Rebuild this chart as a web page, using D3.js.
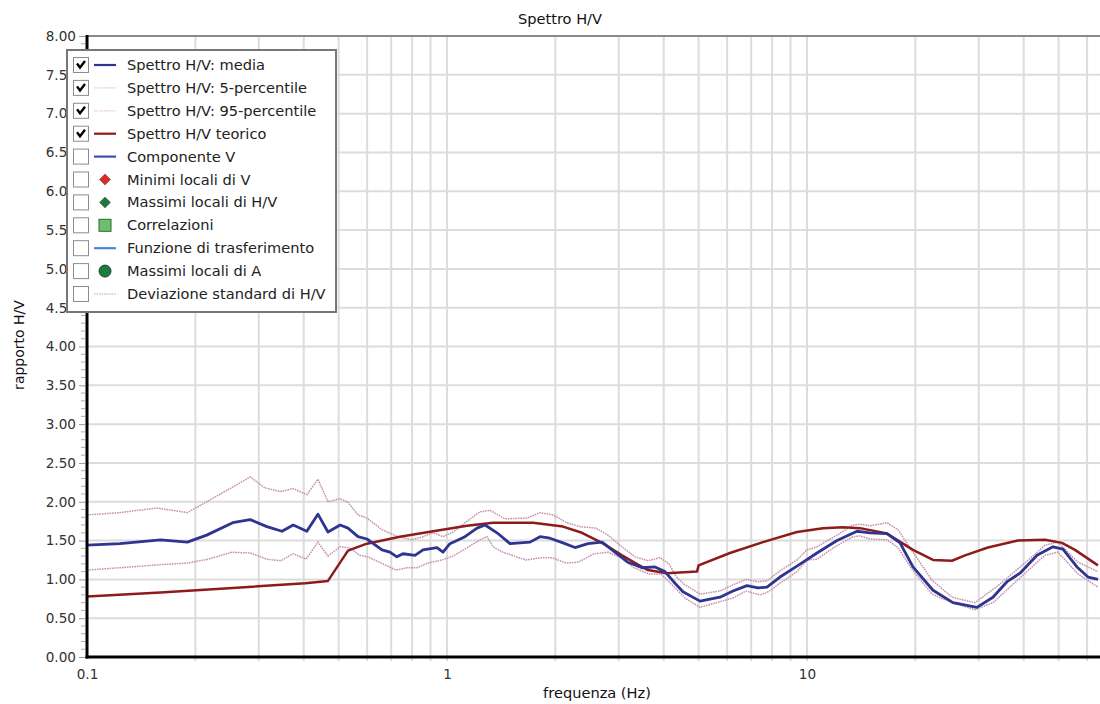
<!DOCTYPE html>
<html>
<head>
<meta charset="utf-8">
<script src="https://cdn.jsdelivr.net/npm/d3@7"></script>
<style>
  html, body { margin: 0; padding: 0; background: #fff; }
  svg { display: block; font-family: "DejaVu Sans", Verdana, sans-serif; }
</style>
</head>
<body>
<svg id="chart" width="1100" height="704"></svg>
<script>
// H/V spectral ratio: mean, 5/95 percentiles and theoretical curve
const meanFreq = [0.1, 0.1235, 0.16, 0.19, 0.215, 0.254, 0.284, 0.316, 0.348, 0.374, 0.408, 0.438, 0.467, 0.505, 0.531, 0.566, 0.599, 0.66, 0.694, 0.726, 0.755, 0.815, 0.858, 0.938, 0.975, 1.019, 1.122, 1.212, 1.276, 1.377, 1.496, 1.701, 1.813, 1.932, 2.1, 2.268, 2.465, 2.696, 2.929, 3.183, 3.481, 3.783, 4.032, 4.299, 4.524, 5.045, 5.733, 6.229, 6.813, 7.311, 7.743, 8.414, 9.38, 10.66, 12.12, 13.77, 14.96, 16.68, 18.13, 19.7, 22.39, 25.44, 29.66, 32.86, 35.94, 39.06, 43.55, 48.23, 51.41, 56.23, 60.35, 64.31];
const meanHV = [1.44, 1.46, 1.51, 1.48, 1.57, 1.73, 1.77, 1.68, 1.62, 1.70, 1.62, 1.84, 1.61, 1.70, 1.66, 1.55, 1.52, 1.38, 1.35, 1.29, 1.33, 1.31, 1.38, 1.41, 1.35, 1.46, 1.55, 1.66, 1.70, 1.60, 1.46, 1.48, 1.55, 1.53, 1.47, 1.41, 1.46, 1.48, 1.35, 1.22, 1.15, 1.16, 1.10, 0.95, 0.84, 0.72, 0.77, 0.85, 0.92, 0.89, 0.90, 1.03, 1.17, 1.34, 1.50, 1.62, 1.60, 1.59, 1.47, 1.16, 0.86, 0.70, 0.64, 0.77, 0.97, 1.08, 1.31, 1.42, 1.39, 1.16, 1.03, 1.00];

const p5Freq = [0.1, 0.1235, 0.16, 0.19, 0.217, 0.253, 0.284, 0.316, 0.346, 0.374, 0.406, 0.438, 0.467, 0.505, 0.534, 0.573, 0.603, 0.656, 0.722, 0.774, 0.825, 0.886, 0.969, 1.039, 1.122, 1.235, 1.292, 1.342, 1.43, 1.516, 1.658, 1.836, 1.958, 2.141, 2.312, 2.561, 2.8, 3.043, 3.307, 3.639, 3.93, 4.217, 4.582, 5.045, 5.807, 6.229, 6.77, 7.404, 7.743, 8.414, 9.38, 10.0, 10.66, 11.96, 13.42, 14.04, 14.96, 16.68, 17.9, 19.57, 22.25, 25.28, 29.29, 32.86, 33.94, 42.17, 45.82, 49.8, 56.6, 64.31];
const p5HV = [1.12, 1.15, 1.19, 1.21, 1.26, 1.35, 1.34, 1.26, 1.24, 1.33, 1.26, 1.48, 1.30, 1.42, 1.41, 1.31, 1.29, 1.21, 1.12, 1.15, 1.15, 1.21, 1.25, 1.30, 1.39, 1.51, 1.55, 1.42, 1.35, 1.31, 1.25, 1.28, 1.28, 1.21, 1.22, 1.33, 1.35, 1.28, 1.15, 1.07, 1.07, 0.93, 0.76, 0.64, 0.72, 0.76, 0.85, 0.80, 0.83, 0.95, 1.10, 1.25, 1.26, 1.42, 1.55, 1.56, 1.52, 1.51, 1.41, 1.13, 0.81, 0.70, 0.61, 0.70, 0.76, 1.16, 1.31, 1.35, 1.07, 0.90];

const p95Freq = [0.1, 0.1235, 0.1565, 0.19, 0.215, 0.254, 0.284, 0.312, 0.344, 0.374, 0.408, 0.438, 0.467, 0.505, 0.531, 0.566, 0.599, 0.66, 0.731, 0.799, 0.858, 0.915, 0.975, 1.039, 1.137, 1.235, 1.317, 1.449, 1.668, 1.813, 1.97, 2.154, 2.341, 2.594, 2.8, 3.024, 3.329, 3.616, 3.906, 4.137, 4.326, 4.553, 5.045, 5.733, 6.229, 6.77, 7.311, 7.743, 8.414, 9.38, 10.0, 10.66, 12.12, 13.42, 14.21, 14.96, 16.68, 17.9, 19.57, 22.25, 25.28, 29.29, 33.94, 42.17, 45.82, 49.8, 56.6, 64.31];
const p95HV = [1.83, 1.86, 1.92, 1.86, 2.00, 2.19, 2.32, 2.18, 2.13, 2.17, 2.09, 2.29, 2.00, 2.04, 1.99, 1.83, 1.79, 1.64, 1.55, 1.51, 1.55, 1.60, 1.55, 1.61, 1.75, 1.87, 1.89, 1.78, 1.79, 1.86, 1.83, 1.73, 1.68, 1.66, 1.57, 1.44, 1.29, 1.24, 1.28, 1.20, 1.04, 0.94, 0.81, 0.85, 0.93, 1.00, 0.97, 0.98, 1.11, 1.25, 1.38, 1.42, 1.57, 1.70, 1.71, 1.69, 1.73, 1.64, 1.37, 0.99, 0.77, 0.70, 0.92, 1.29, 1.44, 1.48, 1.22, 1.10];

const theoFreq = [0.1, 0.16, 0.254, 0.404, 0.467, 0.531, 0.599, 0.74, 0.915, 1.137, 1.342, 1.733, 2.1, 2.371, 2.696, 3.063, 3.393, 3.616, 4.084, 4.95, 5.0, 6.11, 7.547, 9.38, 11.08, 12.59, 14.04, 16.68, 19.7, 22.39, 25.28, 27.48, 31.83, 38.56, 45.82, 51.08, 55.52, 64.31];
const theoHV = [0.78, 0.83, 0.89, 0.95, 0.98, 1.37, 1.46, 1.55, 1.62, 1.69, 1.73, 1.73, 1.68, 1.60, 1.47, 1.31, 1.19, 1.12, 1.08, 1.10, 1.18, 1.34, 1.48, 1.61, 1.66, 1.67, 1.66, 1.59, 1.38, 1.25, 1.24, 1.31, 1.41, 1.50, 1.51, 1.47, 1.38, 1.18];

const yTickValues = [0, 0.5, 1, 1.5, 2, 2.5, 3, 3.5, 4, 4.5, 5, 5.5, 6, 6.5, 7, 7.5, 8];
const xTickLabels = ["0.1", "1", "10"];

const legendLabels = ["Spettro H/V: media", "Spettro H/V: 5-percentile", "Spettro H/V: 95-percentile", "Spettro H/V teorico", "Componente V", "Minimi locali di V", "Massimi locali di H/V", "Correlazioni", "Funzione di trasferimento", "Massimi locali di A", "Deviazione standard di H/V"];
const legendChecked = [true, true, true, true, false, false, false, false, false, false, false];
const legendSymbols = ["line", "dots", "dots", "line", "line", "diamond", "diamond", "square", "line", "circle", "dots"];
const legendColors = ["#2e3590", "#e6c3d6", "#e6c3d6", "#8e1b1b", "#3b4fae", "#e02828", "#1b7a3e", "#6cc06e", "#4a86d0", "#1b7a3e", "#c8c8c8"];

const svg = d3.select("#chart");
const pLeft = 87, pTop = 36, pRight = 1100, pBottom = 657;
const labelSize = 14.6, tickSize = 13.6;

const x = d3.scaleLog().domain([0.1, 65.16]).range([pLeft, pRight]);
const y = d3.scaleLinear().domain([0, 8]).range([pBottom, pTop]);

svg.append("defs").append("clipPath").attr("id", "plotClip")
  .append("rect").attr("x", pLeft).attr("y", pTop).attr("width", pRight - pLeft).attr("height", pBottom - pTop);

// grid
const gridFreqs = [];
[0.1, 1, 10].forEach(d => { for (let k = 1; k <= 9; k++) { const f = d * k; if (f <= 65.16) gridFreqs.push(f); } });
const grid = svg.append("g").attr("stroke", "#dcdcdc").attr("stroke-width", 2);
grid.selectAll(".vg").data(gridFreqs.slice(1)).join("line")
  .attr("x1", d => x(d)).attr("x2", d => x(d)).attr("y1", pTop).attr("y2", pBottom + 4);
grid.selectAll(".hg").data(yTickValues.slice(1)).join("line")
  .attr("x1", pLeft).attr("x2", pRight).attr("y1", d => y(d)).attr("y2", d => y(d));

// y axis with minor ticks
const yMinor = d3.range(0, 8.001, 0.1).filter(v => Math.abs(v * 2 - Math.round(v * 2)) > 1e-6);
const yAxis = svg.append("g").attr("transform", `translate(${pLeft - 2},0)`)
  .call(d3.axisLeft(y).tickValues(yTickValues).tickFormat(d3.format(".2f")).tickSize(6).tickPadding(3));
yAxis.select(".domain").remove();
yAxis.selectAll(".tick line").attr("stroke", "#999");
yAxis.selectAll(".tick text").attr("fill", "#333").attr("font-size", tickSize).attr("font-family", "DejaVu Sans, sans-serif");
svg.append("g").selectAll("line").data(yMinor).join("line")
  .attr("x1", pLeft - 6).attr("x2", pLeft - 2).attr("y1", d => y(d)).attr("y2", d => y(d))
  .attr("stroke", "#aaa").attr("stroke-width", 1);

// x axis labels
const xAxis = svg.append("g").attr("transform", `translate(0,${pBottom})`)
  .call(d3.axisBottom(x).tickValues(xTickLabels.map(Number)).tickFormat((d, i) => xTickLabels[i]).tickSize(0).tickPadding(12));
xAxis.select(".domain").remove();
xAxis.selectAll(".tick text").attr("fill", "#333").attr("font-size", tickSize).attr("font-family", "DejaVu Sans, sans-serif");

// data lines
const plot = svg.append("g").attr("clip-path", "url(#plotClip)");
const line = d3.line().x(d => x(d[0])).y(d => y(d[1]));
const zip = (a, b) => a.map((v, i) => [v, b[i]]);

plot.append("path").datum(zip(p95Freq, p95HV)).attr("d", line)
  .attr("fill", "none").attr("stroke", "#c690ad").attr("stroke-width", 1.5).attr("stroke-dasharray", "1.6,0.9");
plot.append("path").datum(zip(p5Freq, p5HV)).attr("d", line)
  .attr("fill", "none").attr("stroke", "#c690ad").attr("stroke-width", 1.5).attr("stroke-dasharray", "1.6,0.9");
plot.append("path").datum(zip(theoFreq, theoHV)).attr("d", line)
  .attr("fill", "none").attr("stroke", "#8e1b1b").attr("stroke-width", 2.5).attr("stroke-linejoin", "round");
plot.append("path").datum(zip(meanFreq, meanHV)).attr("d", line)
  .attr("fill", "none").attr("stroke", "#2e3590").attr("stroke-width", 2.8).attr("stroke-linejoin", "round");

// frame
svg.append("line").attr("x1", pLeft).attr("x2", pRight).attr("y1", pTop).attr("y2", pTop)
  .attr("stroke", "#8a8a8a").attr("stroke-width", 2);
svg.append("line").attr("x1", pLeft).attr("x2", pLeft).attr("y1", pTop - 1).attr("y2", pBottom + 1.5)
  .attr("stroke", "#000").attr("stroke-width", 3);
svg.append("line").attr("x1", pLeft - 1.5).attr("x2", pRight).attr("y1", pBottom).attr("y2", pBottom)
  .attr("stroke", "#000").attr("stroke-width", 3);

// titles
svg.append("text").attr("x", 560).attr("y", 24).attr("text-anchor", "middle")
  .attr("font-size", labelSize).attr("fill", "#111").text("Spettro H/V");
svg.append("text").attr("x", 597).attr("y", 698).attr("text-anchor", "middle")
  .attr("font-size", labelSize).attr("fill", "#111").text("frequenza (Hz)");
svg.append("text").attr("transform", "translate(24,345) rotate(-90)").attr("text-anchor", "middle")
  .attr("font-size", 14).attr("fill", "#111").text("rapporto H/V");

// legend
const legend = svg.append("g");
legend.append("rect").attr("x", 67).attr("y", 50).attr("width", 269).attr("height", 262)
  .attr("fill", "#fff").attr("stroke", "#777").attr("stroke-width", 2);
const rowY = i => 65 + i * 22.9;
const rows = legend.selectAll(".row").data(legendLabels).join("g")
  .attr("transform", (d, i) => `translate(0,${rowY(i)})`);
rows.append("rect").attr("x", 73.5).attr("y", -7.5).attr("width", 15).attr("height", 15)
  .attr("fill", "#fff").attr("stroke", "#8c8c8c").attr("stroke-width", 1);
rows.filter((d, i) => legendChecked[i]).append("path")
  .attr("d", "M77,-1.5 L80,2.5 L85,-4").attr("fill", "none").attr("stroke", "#000").attr("stroke-width", 2.4);
rows.each(function (d, i) {
  const g = d3.select(this);
  const s = legendSymbols[i], c = legendColors[i];
  if (s === "line") {
    g.append("line").attr("x1", 94).attr("x2", 116).attr("y1", 0).attr("y2", 0).attr("stroke", c).attr("stroke-width", 2.2);
  } else if (s === "dots") {
    g.append("line").attr("x1", 94).attr("x2", 116).attr("y1", 0).attr("y2", 0).attr("stroke", c)
      .attr("stroke-width", 1.3).attr("stroke-dasharray", "1.5,1");
  } else if (s === "diamond") {
    g.append("path").attr("d", "M105,-5.5 L110.5,0 L105,5.5 L99.5,0 Z").attr("fill", c).attr("stroke", "#555").attr("stroke-width", 0.6);
  } else if (s === "square") {
    g.append("rect").attr("x", 99).attr("y", -6).attr("width", 12).attr("height", 12).attr("fill", c).attr("stroke", "#2d6a2d").attr("stroke-width", 1);
  } else if (s === "circle") {
    g.append("circle").attr("cx", 105).attr("cy", 0).attr("r", 6).attr("fill", c).attr("stroke", "#124a24").attr("stroke-width", 1);
  }
});
rows.append("text").attr("x", 127).attr("y", 5).attr("font-size", labelSize).attr("fill", "#222")
  .text(d => d);
</script>
</body>
</html>
